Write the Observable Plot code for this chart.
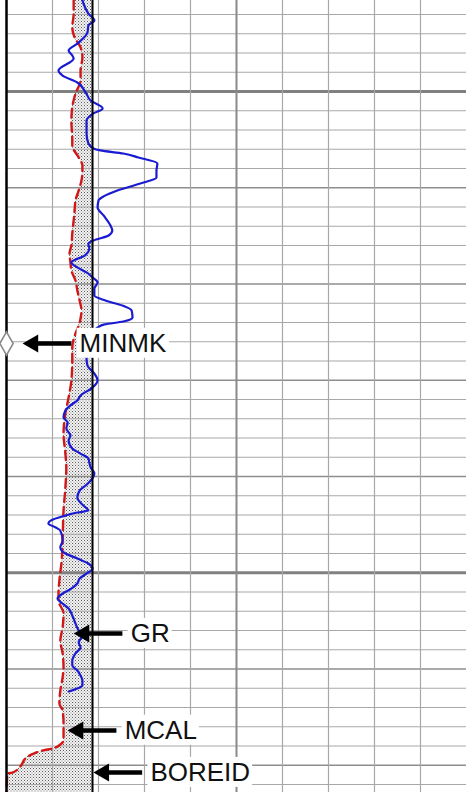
<!DOCTYPE html>
<html>
<head>
<meta charset="utf-8">
<script src="https://cdn.jsdelivr.net/npm/d3@7"></script>
<script src="https://cdn.jsdelivr.net/npm/@observablehq/plot@0.6"></script>
<style>
  html, body { margin: 0; padding: 0; background: #fff; }
  svg { display: block; }
</style>
</head>
<body>
<script>
// ---- Data (depth in grid units, values on a 0–100 track scale) ----
const depthTop = 1495.2727;
const depthBottom = 1536.4156;

const grDepth = [1495.27, 1495.95, 1496.31, 1496.57, 1496.94, 1497.51, 1497.87, 1498.13, 1498.29, 1498.91,
  1499.17, 1499.53, 1500.05, 1500.47, 1500.88, 1501.14, 1501.51, 1502.18, 1502.70, 1502.96,
  1503.06, 1503.22, 1503.43, 1503.74, 1504.10, 1504.47, 1504.78, 1505.14, 1505.45, 1505.66,
  1506.03, 1506.44, 1506.96, 1507.22, 1507.48, 1507.74, 1507.90, 1508.16, 1508.52, 1508.88,
  1509.14, 1509.40, 1509.66, 1509.92, 1510.23, 1510.60, 1510.86, 1511.12, 1511.38, 1511.74,
  1511.95, 1512.10, 1512.26, 1512.47, 1512.68, 1513.19, 1513.71, 1513.87, 1514.23, 1514.65,
  1515.01, 1515.38, 1515.79, 1516.05, 1516.31, 1516.57, 1516.94, 1517.19, 1517.51, 1517.87,
  1518.13, 1518.55, 1518.81, 1519.06, 1519.27, 1519.53, 1519.84, 1520.21, 1520.47, 1520.73,
  1521.09, 1521.51, 1521.77, 1521.87, 1522.03, 1522.29, 1522.44, 1522.65, 1522.81, 1523.32,
  1523.69, 1524.00, 1524.26, 1524.52, 1524.78, 1525.04, 1525.30, 1525.56, 1525.82, 1526.08,
  1526.34, 1526.60, 1526.86, 1527.22, 1527.64, 1528.00, 1528.26, 1528.62, 1528.88, 1529.19,
  1529.56, 1529.82, 1530.08, 1530.34, 1530.60, 1530.86, 1531.01, 1531.17];
const grValue = [16.5, 17.8, 19.1, 17.8, 17.6, 15.4, 13.5, 14.3, 14.6, 11.3,
  12.2, 15.4, 17.2, 18.3, 20.9, 18.9, 17.4, 17.4, 17.8, 18.9,
  20.4, 25.4, 28.7, 32.8, 32.6, 32.6, 29.1, 24.1, 21.1, 20.0,
  19.8, 21.1, 22.6, 23.0, 22.2, 18.9, 17.8, 18.0, 17.0, 14.1,
  15.4, 17.4, 18.7, 19.8, 19.1, 19.1, 21.5, 25.2, 27.2, 27.4,
  25.4, 21.3, 19.8, 18.9, 18.3, 17.8, 17.4, 17.4, 17.6, 19.1,
  19.8, 18.7, 16.1, 15.4, 13.9, 12.8, 12.4, 13.3, 13.0, 13.9,
  13.5, 14.3, 16.1, 17.8, 18.0, 18.3, 19.1, 18.3, 17.2, 15.9,
  15.4, 16.7, 17.8, 15.4, 12.8, 9.6, 9.1, 10.7, 11.7, 12.2,
  11.7, 12.8, 15.4, 17.8, 18.7, 17.4, 15.9, 15.4, 14.1, 12.2,
  11.1, 12.2, 13.5, 14.3, 15.0, 15.7, 16.5, 15.7, 16.1, 15.0,
  14.3, 14.3, 15.4, 16.1, 16.5, 16.5, 15.4, 13.5];

const mcalDepth = [1495.27, 1495.95, 1496.68, 1497.19, 1497.71, 1498.23, 1498.91, 1499.43, 1500.10, 1500.83,
  1501.51, 1502.55, 1502.81, 1503.43, 1503.84, 1504.21, 1504.62, 1505.14, 1505.66, 1506.18,
  1506.70, 1507.38, 1508.00, 1508.42, 1508.88, 1509.30, 1509.82, 1510.34, 1510.86, 1511.38,
  1511.79, 1512.16, 1512.57, 1513.30, 1513.97, 1515.01, 1515.90, 1516.73, 1517.77, 1518.81,
  1519.53, 1520.57, 1521.77, 1523.32, 1524.36, 1525.40, 1526.08, 1526.44, 1527.12, 1527.84,
  1528.52, 1529.19, 1529.92, 1530.44, 1531.12, 1531.79, 1532.16, 1532.83, 1533.71, 1533.92,
  1534.13, 1534.23, 1534.39, 1534.65, 1534.96, 1535.17, 1535.38, 1535.43, 1536.42];
const mcalValue = [14.6, 14.6, 14.3, 14.8, 16.1, 16.5, 16.1, 16.1, 15.0, 14.3,
  14.1, 14.3, 14.3, 15.7, 16.5, 16.5, 16.3, 15.7, 15.0, 14.8,
  14.6, 14.3, 14.1, 13.7, 13.9, 14.1, 15.0, 15.4, 15.9, 16.3,
  16.1, 15.7, 15.0, 14.3, 14.3, 14.1, 13.5, 12.8, 12.4, 12.8,
  13.0, 12.8, 12.4, 12.2, 12.0, 11.5, 11.3, 11.3, 12.4, 12.2,
  11.7, 12.2, 12.4, 12.2, 11.7, 11.5, 12.2, 12.4, 12.4, 11.7,
  10.0, 8.0, 5.9, 4.1, 3.3, 2.6, 1.3, 0.2, 0.0];

const boreidValue = 18.7;

const labelNames = ["MINMK", "GR", "MCAL", "BOREID"];
const labelDepth = [1513.09, 1528.16, 1533.19, 1535.38];
const labelTip = [3.5, 14.6, 13.3, 18.9];

const markerDepth = [1513.09];
const markerValue = [0];

const gridX = d3.range(10, 100, 10);
const gridDepth = d3.range(1496, 1537);

// ---- Tables built from the arrays ----
const gr = grDepth.map((d, i) => ({depth: d, value: grValue[i]}));
const mcal = mcalDepth.map((d, i) => ({depth: d, value: mcalValue[i], bore: boreidValue}));
const labels = labelNames.map((name, i) => ({name, depth: labelDepth[i], tip: labelTip[i]}));
const markers = markerDepth.map((d, i) => ({depth: d, value: markerValue[i]}));

const svg = Plot.plot({
  width: 466,
  height: 792,
  marginLeft: 6,
  marginRight: 0,
  marginTop: 0,
  marginBottom: 0,
  style: {background: "#fff"},
  x: {domain: [0, 100], axis: null},
  y: {domain: [depthTop, depthBottom], reverse: true, axis: null},
  marks: [
    Plot.areaX(mcal, {y: "depth", x1: "value", x2: "bore", fill: "url(#stipple)", curve: "monotone-y"}),
    Plot.ruleY(gridDepth.filter(d => d % 5 !== 0), {stroke: "#a8a8a8", strokeWidth: 1.1}),
    Plot.ruleY(gridDepth.filter(d => d % 5 === 0 && d % 25 !== 0), {stroke: "#8e8e8e", strokeWidth: 1.6}),
    Plot.ruleY(gridDepth.filter(d => d % 25 === 0), {stroke: "#808080", strokeWidth: 3}),
    Plot.ruleX(gridX.filter(d => d !== 50), {stroke: "#a8a8a8", strokeWidth: 1.2}),
    Plot.ruleX([50], {stroke: "#8a8a8a", strokeWidth: 2}),
    Plot.line(mcal, {x: "value", y: "depth", stroke: "#d01818", strokeWidth: 2.4, strokeDasharray: "9,5", curve: "monotone-y"}),
    Plot.line(gr, {x: "value", y: "depth", stroke: "#1a1ad2", strokeWidth: 2.2, curve: "monotone-y"}),
    Plot.ruleX([boreidValue], {stroke: "#000", strokeWidth: 2}),
    Plot.ruleX([0], {stroke: "#000", strokeWidth: 2.5}),
    Plot.dot(markers, {x: "value", y: "depth", symbol: "diamond", r: 7, fill: "#fff", stroke: "#8a8a8a", strokeWidth: 1.6}),
    Plot.ruleY(labels, {y: "depth", x1: d => d.tip + 2, x2: d => d.tip + 10.7, stroke: "#000", strokeWidth: 4.5}),
    Plot.dot(labels, {x: "tip", y: "depth", symbol: "triangle", r: 6.7, fill: "#000", rotate: -90, dx: 10.4}),
    Plot.text(labels, {x: "tip", y: "depth", text: "name", dx: 57, textAnchor: "start", fontSize: 26,
      fontFamily: "Liberation Sans, Arial, sans-serif", fill: "#111"})
  ]
});

document.body.append(svg);

// stipple pattern for the filled area
const defs = d3.select(svg).insert("defs", ":first-child");
const pat = defs.append("pattern").attr("id", "stipple").attr("patternUnits", "userSpaceOnUse")
  .attr("width", 3).attr("height", 3);
pat.append("rect").attr("width", 3).attr("height", 3).attr("fill", "#f3f3f3");
pat.append("rect").attr("x", 0).attr("y", 0).attr("width", 1).attr("height", 1).attr("fill", "#5a5a5a");
pat.append("rect").attr("x", 1.5).attr("y", 1.5).attr("width", 1).attr("height", 1).attr("fill", "#8a8a8a");

// white boxes behind the callout labels
d3.select(svg).selectAll("text").each(function () {
  if (!labelNames.includes(this.textContent)) return;
  const b = this.getBBox();
  const r = document.createElementNS("http://www.w3.org/2000/svg", "rect");
  r.setAttribute("x", b.x - 3);
  r.setAttribute("y", b.y);
  r.setAttribute("width", b.width + 5);
  r.setAttribute("height", b.height);
  r.setAttribute("fill", "#fff");
  r.setAttribute("stroke", "none");
  const t = this.getAttribute("transform");
  if (t) r.setAttribute("transform", t);
  this.parentNode.insertBefore(r, this);
});
</script>
</body>
</html>
